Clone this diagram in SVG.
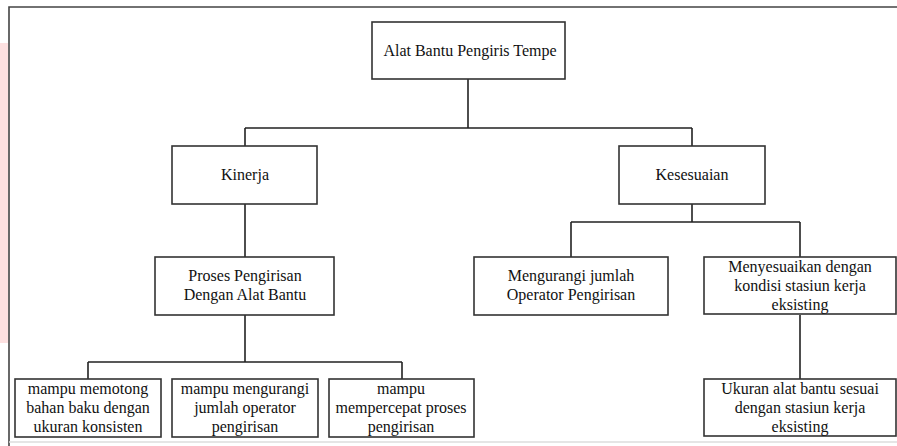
<svg xmlns="http://www.w3.org/2000/svg" width="897" height="446" viewBox="0 0 897 446">
<style>
.box{fill:#fff;stroke:#333;stroke-width:1.6}
.t{font-family:"Liberation Serif","Times New Roman","DejaVu Serif",serif;font-size:16px;fill:#111;text-anchor:middle}
.c{fill:none;stroke:#222;stroke-width:1.6}
</style>
<rect width="897" height="446" fill="#fff"/>
<rect x="0" y="43" width="8" height="300" fill="#fde0e0"/>
<path d="M9 446V7H897" fill="none" stroke="#444" stroke-width="1.6"/>
<path d="M9 442H897" stroke="#ddd" stroke-width="1.5"/>
<g id="connectors">
<path class="c" d="M468 79V128M245 128H692M245 128V146M692 128V146"/>
<path class="c" d="M245 204V257M692 204V222M571 222H800M571 222V257M800 222V257"/>
<path class="c" d="M245 315V362M88 362H402M88 362V379M402 362V379M800 315V379"/>
</g>
<g id="root"><rect class="box" x="372" y="22" width="193" height="57"/><text class="t" x="470" y="56">Alat Bantu Pengiris Tempe</text></g>
<g id="kinerja"><rect class="box" x="172" y="146" width="145" height="58"/><text class="t" x="245" y="180">Kinerja</text></g>
<g id="kesesuaian"><rect class="box" x="619" y="146" width="146" height="58"/><text class="t" x="692" y="180">Kesesuaian</text></g>
<g id="proses"><rect class="box" x="155" y="257" width="179" height="58"/><text class="t" x="245" y="281">Proses Pengirisan</text><text class="t" x="245" y="300">Dengan Alat Bantu</text></g>
<g id="mengurangi"><rect class="box" x="474" y="257" width="194" height="58"/><text class="t" x="571" y="281">Mengurangi jumlah</text><text class="t" x="571" y="300">Operator Pengirisan</text></g>
<g id="menyesuaikan"><rect class="box" x="704" y="257" width="192" height="57"/><text class="t" x="800" y="272">Menyesuaikan dengan</text><text class="t" x="800" y="291">kondisi stasiun kerja</text><text class="t" x="800" y="310">eksisting</text></g>
<g id="memotong"><rect class="box" x="15" y="379" width="146" height="58"/><text class="t" x="88" y="394">mampu memotong</text><text class="t" x="88" y="413">bahan baku dengan</text><text class="t" x="88" y="432">ukuran konsisten</text></g>
<g id="mengurangi2"><rect class="box" x="172" y="379" width="146" height="58"/><text class="t" x="245" y="394">mampu mengurangi</text><text class="t" x="245" y="413">jumlah operator</text><text class="t" x="245" y="432">pengirisan</text></g>
<g id="mempercepat"><rect class="box" x="329" y="379" width="145" height="58"/><text class="t" x="401" y="394">mampu</text><text class="t" x="401" y="413">mempercepat proses</text><text class="t" x="401" y="432">pengirisan</text></g>
<g id="ukuran"><rect class="box" x="704" y="379" width="192" height="57"/><text class="t" x="800" y="394">Ukuran alat bantu sesuai</text><text class="t" x="800" y="413">dengan stasiun kerja</text><text class="t" x="800" y="432">eksisting</text></g>
</svg>
